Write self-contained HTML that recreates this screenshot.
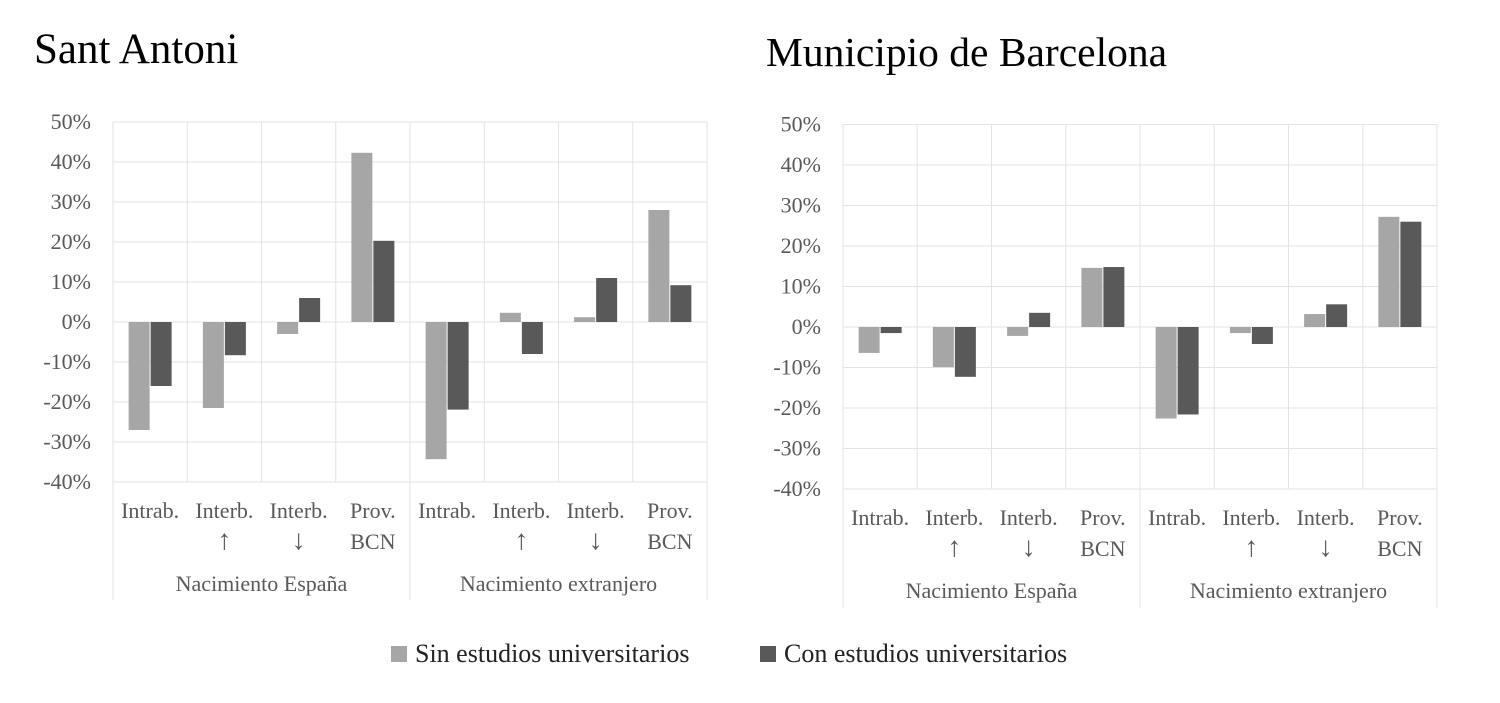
<!DOCTYPE html>
<html><head><meta charset="utf-8"><style>
body{margin:0;background:#fff;width:1500px;height:698px;overflow:hidden;font-family:"Liberation Serif",serif}
</style></head><body>
<svg width="1500" height="698" xmlns="http://www.w3.org/2000/svg" font-family="Liberation Serif, serif">
<text x="34" y="63" font-size="43" fill="#000">Sant Antoni</text>
<text x="766" y="66" font-size="41.5" fill="#000">Municipio de Barcelona</text>
<g id="c1"></g>
<g id="c2"></g>
<g>
<rect x="391" y="646" width="16" height="16" fill="#a6a6a6"/>
<text x="415" y="662" font-size="26" fill="#222">Sin estudios universitarios</text>
<rect x="760" y="646" width="16" height="16" fill="#595959"/>
<text x="784" y="662" font-size="26" fill="#222">Con estudios universitarios</text>
</g>
</svg>
<script>
const categories=["Intrab.|","Interb.|↑","Interb.|↓","Prov.|BCN","Intrab.|","Interb.|↑","Interb.|↓","Prov.|BCN"];
const groups=["Nacimiento España","Nacimiento extranjero"];
const ticks=[50,40,30,20,10,0,-10,-20,-30,-40];
const santSin=[-27,-21.5,-3,42.3,-34.3,2.3,1.2,28];
const santCon=[-16,-8.3,6,20.3,-21.9,-8,11,9.2];
const bcnSin=[-6.4,-9.9,-2.2,14.6,-22.6,-1.5,3.2,27.2];
const bcnCon=[-1.5,-12.3,3.5,14.8,-21.6,-4.2,5.6,26];
const NS="http://www.w3.org/2000/svg";
function mk(p,t,a){const e=document.createElementNS(NS,t);for(const k in a)e.setAttribute(k,a[k]);p.appendChild(e);return e;}
function draw(g,cfg,sin,con,key){
 const y=v=>cfg.y0-(v)*cfg.k;
 const cw=(cfg.x1-cfg.x0)/categories.length;
 ticks.forEach(t=>{
  const l=mk(g,"line",{x1:cfg.x0,x2:cfg.x1,y1:y(t),y2:y(t),stroke:"#e3e3e3","stroke-width":1});
  
  
  const tx=mk(g,"text",{x:cfg.x0-22,y:y(t)+7,"text-anchor":"end","font-size":22,fill:"#595959"});
  tx.textContent=t+"%";
  
  
 });
 for(let i=0;i<=categories.length;i++){
  const x=cfg.x0+i*cw;
  const l=mk(g,"line",{x1:x,x2:x,y1:y(50),y2:(i%4===0)?cfg.bot:y(-40),stroke:"#e3e3e3","stroke-width":1});
  
  
 }
 categories.forEach((c,i)=>{
  const cx=cfg.x0+(i+0.5)*cw;
  const [a,b]=c.split("|");
  const t1=mk(g,"text",{x:cx,y:cfg.ly,"text-anchor":"middle","font-size":22,fill:"#595959"});t1.textContent=a;
  
  
  if(b){const t2=mk(g,"text",{x:cx,y:cfg.ly+31,"text-anchor":"middle","font-size":b==="BCN"?22:28,fill:"#595959"});t2.textContent=b;
  
  }
  const bw=21;
  [[sin[i],"#a6a6a6",cx-bw-0.5,"bar-sin"],[con[i],"#595959",cx+0.5,"bar-con"]].forEach(([v,col,x,n])=>{
   const r=mk(g,"rect",{x:x,y:Math.min(y(0),y(v)),width:bw,height:Math.abs(y(v)-y(0)),fill:col});
   
   
  });
 });
 groups.forEach((gr,j)=>{
  const t=mk(g,"text",{x:cfg.x0+(j*4+2)*cw,y:cfg.gy,"text-anchor":"middle","font-size":22,fill:"#595959"});t.textContent=gr;
  
  
 });
}
draw(document.getElementById("c1"),{x0:113,x1:707,y0:322,k:4.0,bot:600,ly:518,gy:591},santSin,santCon,"sant");
draw(document.getElementById("c2"),{x0:843,x1:1437,y0:327,k:4.05,bot:608,ly:525,gy:598},bcnSin,bcnCon,"bcn");
</script>
</body></html>
